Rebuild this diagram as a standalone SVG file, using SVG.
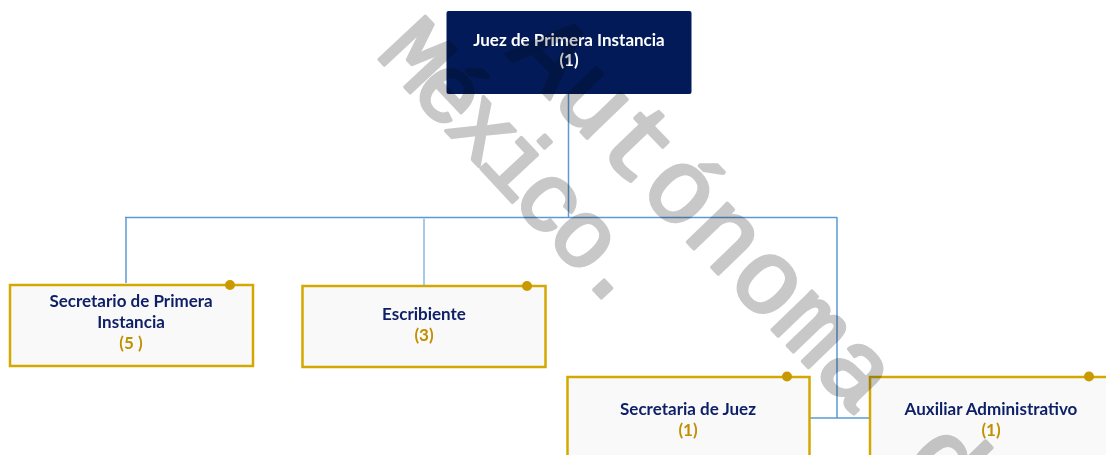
<svg xmlns="http://www.w3.org/2000/svg" width="1106" height="455" viewBox="0 0 1106 455">
<style>
.box{fill:#f9f9f9;stroke:#d3a800;stroke-width:2.5}
.dot{fill:#c99a00}
.t{font-family:Lato,"Liberation Sans",sans-serif;font-weight:700;font-size:17px;text-anchor:middle;fill:#0d1f66}
.n{fill:#bf9000}
.ln{stroke:#5b9bd5;stroke-width:1.5;fill:none}
.ln2{stroke:#a6caec;stroke-width:2;fill:none}
.wm{font-family:"Liberation Mono",monospace;font-weight:400;fill:#c8c8c8;stroke:#c8c8c8;stroke-width:3.5;stroke-linejoin:round;mix-blend-mode:multiply}
</style>
<rect width="1106" height="455" fill="#ffffff"/>
<g id="connectors">
<path class="ln" d="M568.5 94 V217.5 M125 217.5 H837.5 M126 217.5 V283 M837 217.5 V418 M810 418 H870"/>
<path class="ln2" d="M424 218.5 V285"/>
</g>
<g id="juez">
<rect x="446.5" y="11" width="245" height="83" rx="2" fill="#021b58"/>
<text class="t" x="569" y="46" style="fill:#ffffff">Juez de Primera Instancia</text>
<text class="t" x="569" y="66" style="fill:#ffffff">(1)</text>
</g>
<g id="secretario-primera">
<rect class="box" x="10" y="285" width="243" height="81"/>
<circle class="dot" cx="230" cy="285" r="5"/>
<text class="t" x="131" y="307">Secretario de Primera</text>
<text class="t" x="131" y="328">Instancia</text>
<text class="t n" x="131" y="349">(5 )</text>
</g>
<g id="escribiente">
<rect class="box" x="302.5" y="286" width="243" height="81"/>
<circle class="dot" cx="527" cy="286" r="5"/>
<text class="t" x="424" y="320">Escribiente</text>
<text class="t n" x="424" y="341">(3)</text>
</g>
<g id="secretaria-juez">
<rect class="box" x="567.5" y="377" width="242" height="100"/>
<circle class="dot" cx="787" cy="376.5" r="5"/>
<text class="t" x="688" y="415">Secretaria de Juez</text>
<text class="t n" x="688" y="436">(1)</text>
</g>
<g id="auxiliar">
<rect class="box" x="870" y="377" width="242" height="100"/>
<circle class="dot" cx="1089" cy="376.5" r="5"/>
<text class="t" x="991" y="415">Auxiliar Administrativo</text>
<text class="t n" x="991" y="436">(1)</text>
</g>
<g id="watermark">
<text class="wm" font-size="105" transform="translate(506,54) rotate(46)">Autónoma de</text>
<text class="wm" font-size="96" letter-spacing="-8" transform="translate(375,55) rotate(47)">México.</text>
</g>
</svg>
